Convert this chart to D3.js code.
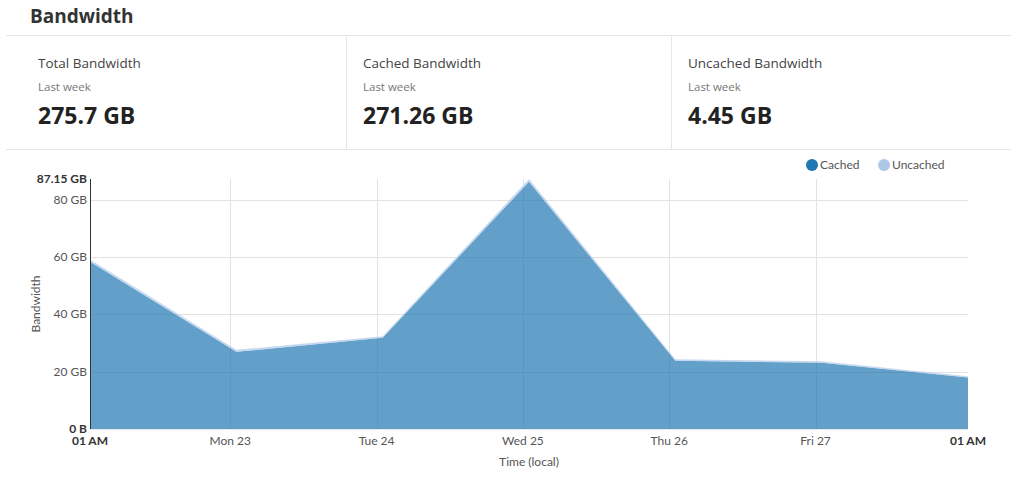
<!DOCTYPE html>
<html><head><meta charset="utf-8">
<script src="https://cdn.jsdelivr.net/npm/d3@7"></script>
<style>
body{margin:0;background:#fff;font-family:"Open Sans","Noto Sans",sans-serif;}
</style></head>
<body><svg id="c" width="1017" height="479"></svg>
<script>
const title = "Bandwidth";
const cardTitles = ["Total Bandwidth","Cached Bandwidth","Uncached Bandwidth"];
const cardSub = "Last week";
const cardValues = ["275.7 GB","271.26 GB","4.45 GB"];
const seriesNames = ["Cached","Uncached"];
const seriesColors = ["#1f77b4","#aec7e8"];
const dates = ["2023-01-22T01:00","2023-01-23T01:00","2023-01-24T01:00","2023-01-25T01:00","2023-01-26T01:00","2023-01-27T01:00","2023-01-28T01:00"];
const cached   = [58.3, 26.9, 31.8, 86.15, 23.8, 23.1, 17.95];
const uncached = [0.8, 0.7, 0.5, 1.0, 0.5, 0.5, 0.45];
const yTicks = [0,20,40,60,80];
const yMax = 87.15;
const dayTicks = ["2023-01-23T00:00","2023-01-24T00:00","2023-01-25T00:00","2023-01-26T00:00","2023-01-27T00:00"];

const svg = d3.select("#c");
const parse = d3.timeParse("%Y-%m-%dT%H:%M");
const data = dates.map((d,i)=>({t:parse(d),cached:cached[i],uncached:uncached[i]}));

// Header
svg.append("text").attr("x",30).attr("y",23).text(title)
  .style("font-size","19px").style("font-weight","700").style("fill","#333");
svg.append("line").attr("x1",6).attr("x2",1011).attr("y1",35.5).attr("y2",35.5).style("stroke","#e6e6e6");
svg.append("line").attr("x1",6).attr("x2",1011).attr("y1",149.5).attr("y2",149.5).style("stroke","#e6e6e6");
[346.5,671.5].forEach(x=>svg.append("line").attr("x1",x).attr("x2",x).attr("y1",36).attr("y2",149).style("stroke","#e6e6e6"));
const cardX = [38,363,688];
cardTitles.forEach((t,i)=>{
  const g = svg.append("g").attr("transform",`translate(${cardX[i]},0)`);
  g.append("text").attr("y",68).text(t).style("font-size","13.5px").style("fill","#444");
  g.append("text").attr("y",91).text(cardSub).style("font-size","11.5px").style("fill","#777");
  g.append("text").attr("y",124).text(cardValues[i]).style("font-size","23px").style("font-weight","700").style("fill","#222");
});

// Chart
const m = {l:90, r:968, t:179, b:429};
const x = d3.scaleTime().domain([data[0].t, data[data.length-1].t]).range([m.l,m.r]);
const y = d3.scaleLinear().domain([0,yMax]).range([m.b,m.t]);
const tickFont = "Lato, sans-serif";

const grid = svg.append("g");
yTicks.filter(v=>v>0).forEach(v=>grid.append("line").attr("x1",m.l).attr("x2",m.r)
  .attr("y1",Math.round(y(v))+0.5).attr("y2",Math.round(y(v))+0.5).style("stroke","#e2e2e2"));
dayTicks.map(parse).forEach(d=>grid.append("line").attr("x1",Math.round(x(d))+0.5).attr("x2",Math.round(x(d))+0.5)
  .attr("y1",m.t).attr("y2",m.b).style("stroke","#e2e2e2"));

const stack = d3.stack().keys(["cached","uncached"]);
const layers = stack(data);
const area = d3.area().x(d=>x(d.data.t)).y0(d=>y(d[0])).y1(d=>y(d[1]));
svg.append("g").selectAll("path").data(layers).join("path")
  .attr("d",area).style("fill",(d,i)=>seriesColors[i]).style("fill-opacity",0.7).style("stroke","none");

// Axes
svg.append("line").attr("x1",m.l).attr("x2",m.r).attr("y1",m.b+0.5).attr("y2",m.b+0.5).style("stroke","#e6e6e6");
svg.append("line").attr("x1",m.l+0.5).attr("x2",m.l+0.5).attr("y1",m.t).attr("y2",m.b).style("stroke","#333");

const yAxisTicks = yTicks.concat([yMax]);
svg.append("g").selectAll("text").data(yAxisTicks).join("text")
  .attr("x",m.l-3).attr("y",d=>y(d)+4).attr("text-anchor","end")
  .text(d=>d===0?"0 B":(d===yMax?d3.format(".2f")(d)+" GB":d+" GB"))
  .style("font-family",tickFont).style("font-size","12px")
  .style("font-weight",d=>(d===0||d===yMax)?"700":"400")
  .style("fill",d=>(d===0||d===yMax)?"#333":"#555");

const xt = [{t:data[0].t,b:true}].concat(dayTicks.map(d=>({t:parse(d),b:false}))).concat([{t:data[data.length-1].t,b:true}]);
const fmtDay = d3.timeFormat("%a %d"), fmtHr = d3.timeFormat("%I %p");
svg.append("g").selectAll("text").data(xt).join("text")
  .attr("x",d=>x(d.t)).attr("y",m.b+16).attr("text-anchor","middle")
  .text(d=>d.b?fmtHr(d.t):fmtDay(d.t))
  .style("font-family",tickFont).style("font-size","12px")
  .style("font-weight",d=>d.b?"700":"400").style("fill",d=>d.b?"#333":"#555");

svg.append("text").attr("x",(m.l+m.r)/2).attr("y",466).attr("text-anchor","middle").text("Time (local)")
  .style("font-family",tickFont).style("font-size","12px").style("fill","#555");
svg.append("text").attr("transform",`translate(40,${(m.t+m.b)/2}) rotate(-90)`).attr("text-anchor","middle").text("Bandwidth")
  .style("font-family",tickFont).style("font-size","12px").style("fill","#555");

// Legend
const lx = [812,884];
seriesNames.forEach((n,i)=>{
  svg.append("circle").attr("cx",lx[i]).attr("cy",165).attr("r",6).style("fill",seriesColors[i]);
  svg.append("text").attr("x",lx[i]+8).attr("y",169).text(n)
    .style("font-family",tickFont).style("font-size","12px").style("fill","#555");
});
</script></body></html>
